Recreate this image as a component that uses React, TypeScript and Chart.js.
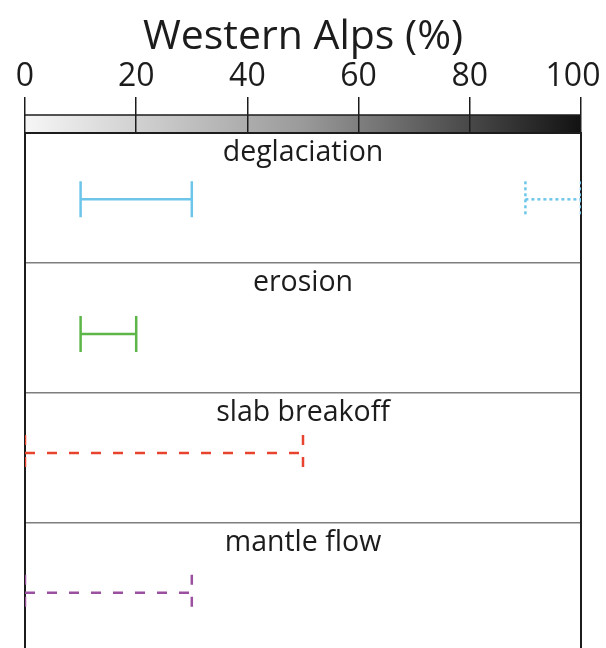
import { useEffect, useRef } from 'react';
import { Chart, registerables } from 'chart.js';

Chart.register(...registerables);

// ---- data ----
const axisTitle = 'Western Alps (%)';
const categories = ['deglaciation', 'erosion', 'slab breakoff', 'mantle flow'];
const labelledTicks = [0, 20, 40, 60, 80, 100];
const rangeCategory = [0, 0, 1, 2, 3];
const rangeLevel = [0.51, 0.51, 1.545, 2.46, 3.535]; // vertical level of each range (panel i spans i..i+1)
const rangeStart = [10, 90, 10, 0, 0];
const rangeEnd = [30, 100, 20, 50, 30];

// ---- styles ----
const rangeColors = ['#6dc6ea', '#6dc6ea', '#5db648', '#e8432e', '#9b4f9f'];
const rangeDash: number[][] = [[], [3, 3], [], [10, 12], [10, 12]];
const FONT = '"Open Sans", "Noto Sans", sans-serif';
const INK = '#1c1c1c';
const CAP = 0.1385;

const gradientBar = {
  id: 'gradientBar',
  beforeDraw(chart: any) {
    const { ctx, chartArea } = chart;
    const x = chart.scales.x;
    const top = chartArea.top - 18;
    const g = ctx.createLinearGradient(x.left, 0, x.right, 0);
    g.addColorStop(0, '#f6f6f6');
    g.addColorStop(0.5, '#9a9a9a');
    g.addColorStop(1, '#121212');
    ctx.save();
    ctx.fillStyle = g;
    ctx.fillRect(x.left, top, x.right - x.left, 18);
    ctx.strokeStyle = INK;
    ctx.lineWidth = 1.5;
    ctx.beginPath();
    ctx.moveTo(x.left, top);
    ctx.lineTo(x.right, top);
    ctx.stroke();
    ctx.restore();
  },
};

const rowLabels = {
  id: 'rowLabels',
  afterDraw(chart: any) {
    const { ctx, chartArea } = chart;
    const y = chart.scales.y;
    const cx = (chartArea.left + chartArea.right) / 2;
    ctx.save();
    ctx.font = `28.5px ${FONT}`;
    ctx.fillStyle = INK;
    ctx.textAlign = 'center';
    ctx.textBaseline = 'alphabetic';
    categories.forEach((c, i) => {
      ctx.fillText(c, cx, y.getPixelForValue(i) + 28);
    });
    ctx.restore();
  },
};

export default function App() {
  const ref = useRef<HTMLCanvasElement>(null);

  useEffect(() => {
    const datasets: any[] = [];
    rangeStart.forEach((s, i) => {
      const y = rangeLevel[i];
      const e = rangeEnd[i];
      const style = {
        borderColor: rangeColors[i],
        backgroundColor: rangeColors[i],
        borderWidth: 2.5,
        borderDash: rangeDash[i],
        pointRadius: 0,
        showLine: true,
        fill: false,
        tension: 0,
      };
      datasets.push({ ...style, label: categories[rangeCategory[i]], data: [{ x: s, y }, { x: e, y }] });
      datasets.push({ ...style, data: [{ x: s, y: y - CAP }, { x: s, y: y + CAP }] });
      datasets.push({ ...style, data: [{ x: e, y: y - CAP }, { x: e, y: y + CAP }] });
    });

    const chart = new Chart(ref.current!, {
      type: 'scatter',
      data: { datasets },
      plugins: [gradientBar, rowLabels],
      options: {
        animation: false,
        responsive: false,
        events: [],
        layout: { padding: { left: 25, right: 25, top: 0, bottom: 0 } },
        plugins: { legend: { display: false }, tooltip: { enabled: false } },
        scales: {
          x: {
            type: 'linear',
            position: 'top',
            min: 0,
            max: 100,
            afterFit: (s: any) => {
              s.height = 133;
              s.paddingLeft = 0;
              s.paddingRight = 0;
            },
            title: {
              display: true,
              text: axisTitle,
              color: INK,
              font: { family: FONT, size: 41 },
              padding: { top: 13, bottom: 0 },
            },
            ticks: {
              stepSize: 10,
              autoSkip: false,
              maxRotation: 0,
              minRotation: 0,
              padding: 1,
              color: INK,
              font: { family: FONT, size: 32 },
              callback: (v: any) =>
                labelledTicks.includes(Number(v)) ? (Number(v) === 100 ? '100\u2002' : String(v)) : null,
            },
            grid: {
              drawOnChartArea: false,
              drawTicks: true,
              tickLength: 36,
              color: INK,
              lineWidth: 1.5,
            },
            border: { display: true, color: INK, width: 2 },
          },
          y: {
            type: 'linear',
            position: 'left',
            reverse: true,
            min: 0,
            max: 3.96,
            afterFit: (s: any) => {
              s.width = 0;
            },
            ticks: { display: false, stepSize: 1 },
            grid: {
              drawTicks: false,
              lineWidth: 1.5,
              color: (c: any) =>
                Number.isInteger(c.tick?.value) && c.tick.value > 0 ? '#7e7e7e' : 'rgba(0,0,0,0)',
            },
            border: { display: true, color: INK, width: 2 },
          },
          yR: {
            type: 'linear',
            position: 'right',
            reverse: true,
            min: 0,
            max: 3.96,
            afterFit: (s: any) => {
              s.width = 0;
            },
            ticks: { display: false },
            grid: { display: false, drawTicks: false },
            border: { display: true, color: INK, width: 2 },
          },
        },
      },
    });
    return () => chart.destroy();
  }, []);

  return (
    <div style={{ position: 'fixed', left: 0, top: 0, width: 606, height: 648, background: '#fff' }}>
      <canvas ref={ref} width={606} height={648} style={{ display: 'block' }} />
    </div>
  );
}
